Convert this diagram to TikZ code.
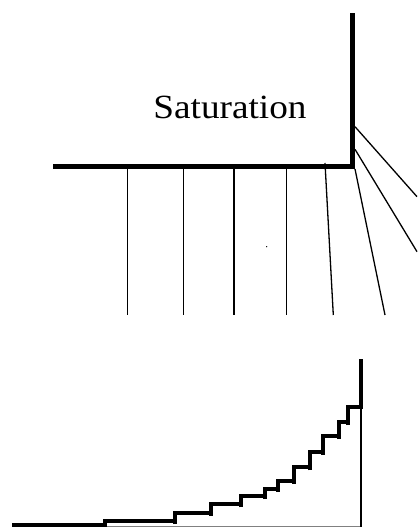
\documentclass[tikz,border=0pt]{standalone}
\usepackage{fontspec}
\setmainfont{Liberation Serif}
\begin{document}
\begin{tikzpicture}[x=1bp, y=-1bp,
  wall/.style={line width=5bp},
  ray/.style={line width=1.3bp},
  stair/.style={line width=4bp}]

  % --- 0. frame of the picture ---
  \useasboundingbox (0,0) rectangle (417,527);

  % --- 1. upper part: saturation corner ---
  \draw[wall] (53,167) -- (352.7,167) -- (352.7,13);
  \node[anchor=base, xscale=1.1, font=\fontsize{34}{40}\selectfont] (sat) at (230,118.5) {Saturation};

  % vertical rays below the plateau
  \foreach \x in {127.3, 183.3, 234, 286.7}
    \draw[ray] (\x,169) -- (\x,315);

  % slanted rays near the corner
  \draw[ray] (325,163) -- (333.3,315);
  \draw[ray] (355,169) -- (385,315);
  \draw[ray] (355,126.7) -- (417,196.7);
  \draw[ray] (355,149.3) -- (417,251.7);

  % small dot
  \fill (266.7,246.7) circle (0.7bp);

  % --- 2. lower part: staircase ---
  \draw[gray, line width=1bp] (105,526) -- (361,526);
  \draw[line width=2bp] (361,406.7) -- (361,527);
  \draw[stair] (12,525) -- (105,525);
  % riser x / tread end / tread y / lower tread y
  \foreach \xa/\xb/\y/\yl in {105/175/520.7/525, 175/211/512.7/520.7,
      211/240.7/504.3/512.7, 240.7/265/496/504.3, 265/278.3/488.7/496,
      278.3/294/480.7/488.7, 294/310/467.3/480.7, 310/323.3/451.7/467.3,
      323.3/339/436/451.7, 339/347.7/422/436, 347.7/361/406.7/422}
    \draw[stair] (\xa,\yl+3) -- (\xa,\y) -- (\xb,\y);
  \draw[stair] (361,408.7) -- (361,359.3);

\end{tikzpicture}
\end{document}
